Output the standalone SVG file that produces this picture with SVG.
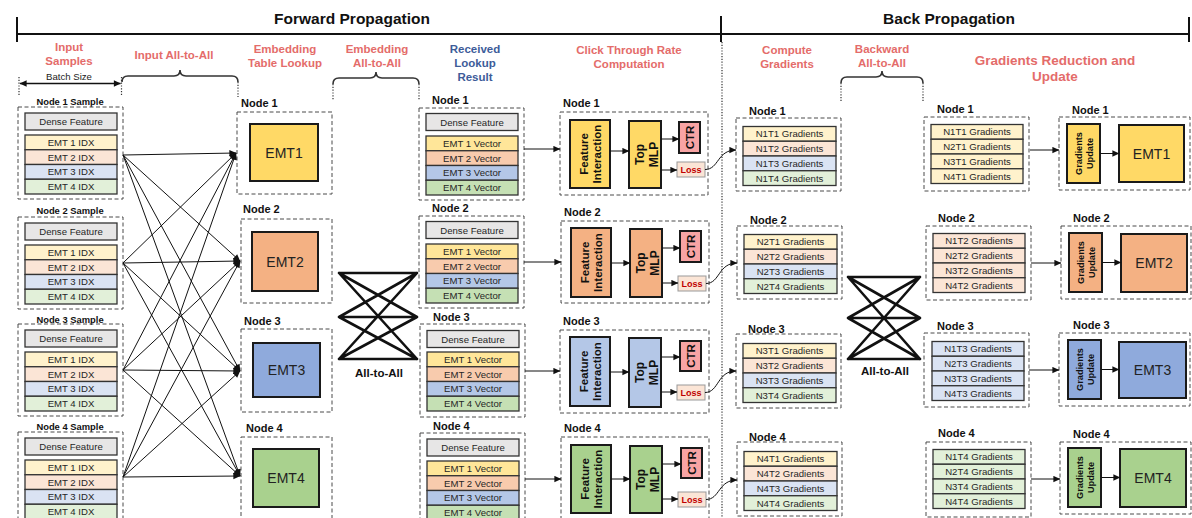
<svg xmlns="http://www.w3.org/2000/svg" width="1192" height="518" viewBox="0 0 1192 518">
<defs>
<marker id="ah" viewBox="0 0 10 10" refX="9.5" refY="5" markerWidth="8" markerHeight="7" markerUnits="userSpaceOnUse" orient="auto-start-reverse"><path d="M0,0.5 L10,5 L0,9.5 z" fill="#111"/></marker>
</defs>
<style>
text{font-family:'Liberation Sans',Arial,sans-serif;}
.hdr{font-size:15.5px;font-weight:bold;fill:#111;text-anchor:middle}
.sec{font-size:11.5px;font-weight:bold;fill:#e46c6a;text-anchor:middle}
.big{font-size:13.5px}
.blu{fill:#3d5c99}
.nl{font-size:11px;font-weight:bold;fill:#111}
.sl{font-size:9.4px;font-weight:bold;fill:#111;text-anchor:middle}
.t{font-size:9.6px;fill:#262626;text-anchor:middle}
.dash{fill:none;stroke:#4a4a4a;stroke-width:1;stroke-dasharray:4 2.5}
.r{stroke:#333;stroke-width:1.3}
.bx{stroke:#1a1a1a;stroke-width:2}
.emt{font-size:14px;fill:#222;text-anchor:middle}
.rot{font-size:11.5px;font-weight:bold;fill:#111;text-anchor:middle}
.gu{font-size:9.2px;font-weight:bold;fill:#111;text-anchor:middle}
.loss{font-size:9px;font-weight:bold;fill:#c00000;text-anchor:middle}
.c{fill:none;stroke:#111;stroke-width:1;marker-end:url(#ah)}
.a2a{stroke:#111;stroke-width:2.6;fill:none;stroke-linecap:round}
.brace{fill:none;stroke:#333;stroke-width:1.6}
.dot{fill:none;stroke:#333;stroke-width:1.2;stroke-dasharray:1.2 1.6}
.y1{fill:#fff2cc}.y2{fill:#fbe5d6}.y3{fill:#dae3f3}.y4{fill:#e2f0d9}
.v1{fill:#ffe699}.v2{fill:#f8cbad}.v3{fill:#b4c7e7}.v4{fill:#c5e0b4}
.e1{fill:#ffd966}.e2{fill:#f4b183}.e3{fill:#8faadc}.e4{fill:#a9d18e}
.gray{fill:#e7e6e6}
.ctr{fill:#f8a4a4}
.lb{fill:#fbe5d6;stroke:#999;stroke-width:1}
</style>

<g id="header">
<text class="hdr" x="352" y="24">Forward Propagation</text>
<text class="hdr" x="949" y="24">Back Propagation</text>
<line x1="17" y1="34" x2="1189" y2="34" stroke="#111" stroke-width="2"/>
<line x1="17" y1="17" x2="17" y2="42" stroke="#111" stroke-width="2"/>
<line x1="721" y1="16" x2="721" y2="42" stroke="#111" stroke-width="2"/>
<line x1="1189" y1="17" x2="1189" y2="42" stroke="#111" stroke-width="2"/>
<line class="dot" x1="722" y1="42" x2="722" y2="518"/>
</g>

<g id="section-labels">
<text class="sec" x="69" y="51">Input</text><text class="sec" x="69" y="65">Samples</text>
<text class="sec" x="174" y="59">Input All-to-All</text>
<text class="sec" x="285" y="53">Embedding</text><text class="sec" x="285" y="67">Table Lookup</text>
<text class="sec" x="377" y="53">Embedding</text><text class="sec" x="377" y="67">All-to-All</text>
<text class="sec blu" x="475" y="53">Received</text><text class="sec blu" x="475" y="67">Lookup</text><text class="sec blu" x="475" y="81">Result</text>
<text class="sec" x="629" y="54">Click Through Rate</text><text class="sec" x="629" y="68">Computation</text>
<text class="sec" x="787" y="54">Compute</text><text class="sec" x="787" y="68">Gradients</text>
<text class="sec" x="882" y="53">Backward</text><text class="sec" x="882" y="67">All-to-All</text>
<text class="sec big" x="1055" y="65">Gradients Reduction and</text><text class="sec big" x="1055" y="81">Update</text>
</g>

<g id="braces">
<text x="69" y="80" style="font-size:9.6px;fill:#222;text-anchor:middle">Batch Size</text>
<line class="dot" x1="19" y1="77" x2="19" y2="96"/>
<line class="dot" x1="121.5" y1="77" x2="121.5" y2="96"/>
<path class="brace" d="M122,82 Q122,76 128,76 L174,76 Q180,76 180,70 Q180,76 186,76 L232,76 Q238,76 238,82"/>
<line class="dot" x1="238" y1="82" x2="238" y2="97"/>
<path class="brace" d="M333,84 Q333,78 339,78 L370,78 Q376,78 376,72 Q376,78 382,78 L413,78 Q419,78 419,84"/>
<line class="dot" x1="333" y1="84" x2="333" y2="100"/>
<line class="dot" x1="419" y1="84" x2="419" y2="100"/>
<path class="brace" d="M841,83 Q841,77 847,77 L876,77 Q882,77 882,71 Q882,77 888,77 L917,77 Q923,77 923,83"/>
<line class="dot" x1="841" y1="83" x2="841" y2="102"/>
<line class="dot" x1="923" y1="83" x2="923" y2="102"/>
</g>

<g id="sample1" transform="translate(18,107)">
<text class="sl" x="52" y="-2">Node 1 Sample</text>
<rect class="dash" width="105" height="92"/>
<rect class="r gray" x="7" y="6" width="92" height="17"/><text class="t" x="53" y="18">Dense Feature</text>
<rect class="r y1" x="7" y="28" width="92" height="14.75"/><rect class="r y2" x="7" y="42.75" width="92" height="14.75"/><rect class="r y3" x="7" y="57.5" width="92" height="14.75"/><rect class="r y4" x="7" y="72.25" width="92" height="14.75"/>
<text class="t" x="53" y="38.8">EMT 1 IDX</text><text class="t" x="53" y="53.5">EMT 2 IDX</text><text class="t" x="53" y="68.3">EMT 3 IDX</text><text class="t" x="53" y="83">EMT 4 IDX</text>
</g>
<g id="sample2" transform="translate(18,217)">
<text class="sl" x="52" y="-3">Node 2 Sample</text>
<rect class="dash" width="105" height="92"/>
<rect class="r gray" x="7" y="6" width="92" height="17"/><text class="t" x="53" y="18">Dense Feature</text>
<rect class="r y1" x="7" y="28" width="92" height="14.75"/><rect class="r y2" x="7" y="42.75" width="92" height="14.75"/><rect class="r y3" x="7" y="57.5" width="92" height="14.75"/><rect class="r y4" x="7" y="72.25" width="92" height="14.75"/>
<text class="t" x="53" y="38.8">EMT 1 IDX</text><text class="t" x="53" y="53.5">EMT 2 IDX</text><text class="t" x="53" y="68.3">EMT 3 IDX</text><text class="t" x="53" y="83">EMT 4 IDX</text>
</g>
<g id="sample3" transform="translate(18,324)">
<text class="sl" x="52" y="-1.5">Node 3 Sample</text>
<rect class="dash" width="105" height="92"/>
<rect class="r gray" x="7" y="6" width="92" height="17"/><text class="t" x="53" y="18">Dense Feature</text>
<rect class="r y1" x="7" y="28" width="92" height="14.75"/><rect class="r y2" x="7" y="42.75" width="92" height="14.75"/><rect class="r y3" x="7" y="57.5" width="92" height="14.75"/><rect class="r y4" x="7" y="72.25" width="92" height="14.75"/>
<text class="t" x="53" y="38.8">EMT 1 IDX</text><text class="t" x="53" y="53.5">EMT 2 IDX</text><text class="t" x="53" y="68.3">EMT 3 IDX</text><text class="t" x="53" y="83">EMT 4 IDX</text>
</g>
<g id="sample4" transform="translate(18,432)">
<text class="sl" x="52" y="-2.5">Node 4 Sample</text>
<rect class="dash" width="105" height="92"/>
<rect class="r gray" x="7" y="6" width="92" height="17"/><text class="t" x="53" y="18">Dense Feature</text>
<rect class="r y1" x="7" y="28" width="92" height="14.75"/><rect class="r y2" x="7" y="42.75" width="92" height="14.75"/><rect class="r y3" x="7" y="57.5" width="92" height="14.75"/><rect class="r y4" x="7" y="72.25" width="92" height="14.75"/>
<text class="t" x="53" y="38.8">EMT 1 IDX</text><text class="t" x="53" y="53.5">EMT 2 IDX</text><text class="t" x="53" y="68.3">EMT 3 IDX</text><text class="t" x="53" y="83">EMT 4 IDX</text>
</g>

<g id="emt-lookup1">
<text class="nl" x="241" y="107">Node 1</text>
<rect class="dash" x="237" y="112" width="95" height="82"/>
<rect class="bx e1" x="250" y="124" width="68" height="57"/><text class="emt" x="284" y="157.5">EMT1</text>
</g>
<g id="emt-lookup2">
<text class="nl" x="243" y="213">Node 2</text>
<rect class="dash" x="241" y="219" width="91" height="84"/>
<rect class="bx e2" x="252" y="232" width="66" height="59"/><text class="emt" x="285" y="266.5">EMT2</text>
</g>
<g id="emt-lookup3">
<text class="nl" x="244" y="325">Node 3</text>
<rect class="dash" x="241" y="329" width="91" height="83"/>
<rect class="bx e3" x="253" y="343" width="67" height="54"/><text class="emt" x="286.5" y="375">EMT3</text>
</g>
<g id="emt-lookup4">
<text class="nl" x="246" y="432">Node 4</text>
<rect class="dash" x="241" y="437" width="91" height="85"/>
<rect class="bx e4" x="253" y="449" width="66" height="58"/><text class="emt" x="286" y="483">EMT4</text>
</g>

<g id="a2a-forward">
<path class="a2a" d="M339,273 L417,273 M339,317 L417,317 M339,359 L417,359 M339,273 L417,317 M339,273 L417,359 M339,317 L417,273 M339,317 L417,359 M339,359 L417,273 M339,359 L417,317"/>
<text x="379" y="377" style="font-size:11.5px;font-weight:bold;fill:#111;text-anchor:middle">All-to-All</text>
</g>

<g id="received1" transform="translate(419,108)">
<text class="nl" x="13" y="-4">Node 1</text>
<rect class="dash" width="105" height="92"/>
<rect class="r gray" x="7" y="5.5" width="92" height="17"/><text class="t" x="53" y="17.5">Dense Feature</text>
<rect class="r v1" x="7" y="28" width="92" height="14.75"/><rect class="r v2" x="7" y="42.75" width="92" height="14.75"/><rect class="r v3" x="7" y="57.5" width="92" height="14.75"/><rect class="r v4" x="7" y="72.25" width="92" height="14.75"/>
<text class="t" x="53" y="38.8">EMT 1 Vector</text><text class="t" x="53" y="53.5">EMT 2 Vector</text><text class="t" x="53" y="68.3">EMT 3 Vector</text><text class="t" x="53" y="83">EMT 4 Vector</text>
</g>
<g id="received2" transform="translate(419,216)">
<text class="nl" x="13" y="-4">Node 2</text>
<rect class="dash" width="105" height="92"/>
<rect class="r gray" x="7" y="5.5" width="92" height="17"/><text class="t" x="53" y="17.5">Dense Feature</text>
<rect class="r v1" x="7" y="28" width="92" height="14.75"/><rect class="r v2" x="7" y="42.75" width="92" height="14.75"/><rect class="r v3" x="7" y="57.5" width="92" height="14.75"/><rect class="r v4" x="7" y="72.25" width="92" height="14.75"/>
<text class="t" x="53" y="38.8">EMT 1 Vector</text><text class="t" x="53" y="53.5">EMT 2 Vector</text><text class="t" x="53" y="68.3">EMT 3 Vector</text><text class="t" x="53" y="83">EMT 4 Vector</text>
</g>
<g id="received3" transform="translate(420,324)">
<text class="nl" x="13" y="-3">Node 3</text>
<rect class="dash" width="105" height="93"/>
<rect class="r gray" x="7" y="6.5" width="92" height="17"/><text class="t" x="53" y="18.5">Dense Feature</text>
<rect class="r v1" x="7" y="28" width="92" height="14.75"/><rect class="r v2" x="7" y="42.75" width="92" height="14.75"/><rect class="r v3" x="7" y="57.5" width="92" height="14.75"/><rect class="r v4" x="7" y="72.25" width="92" height="14.75"/>
<text class="t" x="53" y="38.8">EMT 1 Vector</text><text class="t" x="53" y="53.5">EMT 2 Vector</text><text class="t" x="53" y="68.3">EMT 3 Vector</text><text class="t" x="53" y="83">EMT 4 Vector</text>
</g>
<g id="received4" transform="translate(420,433)">
<text class="nl" x="13" y="-3">Node 4</text>
<rect class="dash" width="105" height="92"/>
<rect class="r gray" x="7" y="6" width="92" height="17"/><text class="t" x="53" y="18">Dense Feature</text>
<rect class="r v1" x="7" y="28" width="92" height="14.75"/><rect class="r v2" x="7" y="42.75" width="92" height="14.75"/><rect class="r v3" x="7" y="57.5" width="92" height="14.75"/><rect class="r v4" x="7" y="72.25" width="92" height="14.75"/>
<text class="t" x="53" y="38.8">EMT 1 Vector</text><text class="t" x="53" y="53.5">EMT 2 Vector</text><text class="t" x="53" y="68.3">EMT 3 Vector</text><text class="t" x="53" y="83">EMT 4 Vector</text>
</g>

<g id="ctr1" transform="translate(560,112)">
<text class="nl" x="3" y="-5">Node 1</text>
<rect class="dash" width="148" height="83"/>
<rect class="bx e1" x="10" y="8" width="40" height="68"/>
<g transform="translate(30,42) rotate(-90)"><text class="rot" y="-2">Feature</text><text class="rot" y="11">Interaction</text></g>
<rect class="bx e1" x="69" y="9" width="32" height="67"/>
<g transform="translate(85,42.5) rotate(-90)"><text class="rot" y="-1" style="font-size:12px">Top</text><text class="rot" y="13" style="font-size:12px">MLP</text></g>
<rect class="bx ctr" x="119" y="10" width="21" height="31"/>
<g transform="translate(129.5,25.5) rotate(-90)"><text class="rot" y="4.5">CTR</text></g>
<rect class="lb" x="117" y="50" width="28" height="15"/><text class="loss" x="131" y="61">Loss</text>
</g>
<g id="ctr2" transform="translate(561,221)">
<text class="nl" x="3" y="-5">Node 2</text>
<rect class="dash" width="148" height="82"/>
<rect class="bx e2" x="10" y="7" width="40" height="69"/>
<g transform="translate(30,41.5) rotate(-90)"><text class="rot" y="-2">Feature</text><text class="rot" y="11">Interaction</text></g>
<rect class="bx e2" x="69" y="8" width="32" height="68"/>
<g transform="translate(85,42) rotate(-90)"><text class="rot" y="-1" style="font-size:12px">Top</text><text class="rot" y="13" style="font-size:12px">MLP</text></g>
<rect class="bx ctr" x="119" y="10" width="21" height="31"/>
<g transform="translate(129.5,25.5) rotate(-90)"><text class="rot" y="4.5">CTR</text></g>
<rect class="lb" x="117" y="55" width="28" height="15"/><text class="loss" x="131" y="66">Loss</text>
</g>
<g id="ctr3" transform="translate(560,330)">
<text class="nl" x="3" y="-5">Node 3</text>
<rect class="dash" width="149" height="83"/>
<rect class="bx v3" x="10" y="7" width="40" height="69"/>
<g transform="translate(30,41.5) rotate(-90)"><text class="rot" y="-2">Feature</text><text class="rot" y="11">Interaction</text></g>
<rect class="bx v3" x="69" y="8" width="32" height="69"/>
<g transform="translate(85,42.5) rotate(-90)"><text class="rot" y="-1" style="font-size:12px">Top</text><text class="rot" y="13" style="font-size:12px">MLP</text></g>
<rect class="bx ctr" x="120" y="11" width="21" height="30"/>
<g transform="translate(130.5,26) rotate(-90)"><text class="rot" y="4.5">CTR</text></g>
<rect class="lb" x="117" y="55" width="28" height="15"/><text class="loss" x="131" y="66">Loss</text>
</g>
<g id="ctr4" transform="translate(561,437)">
<text class="nl" x="3" y="-5">Node 4</text>
<rect class="dash" width="148" height="82"/>
<rect class="bx e4" x="10" y="8" width="40" height="68"/>
<g transform="translate(30,42) rotate(-90)"><text class="rot" y="-2">Feature</text><text class="rot" y="11">Interaction</text></g>
<rect class="bx e4" x="69" y="9" width="32" height="67"/>
<g transform="translate(85,42.5) rotate(-90)"><text class="rot" y="-1" style="font-size:12px">Top</text><text class="rot" y="13" style="font-size:12px">MLP</text></g>
<rect class="bx ctr" x="120" y="11" width="21" height="30"/>
<g transform="translate(130.5,26) rotate(-90)"><text class="rot" y="4.5">CTR</text></g>
<rect class="lb" x="117" y="55" width="28" height="15"/><text class="loss" x="131" y="66">Loss</text>
</g>

<g id="grad1" transform="translate(736,118)">
<text class="nl" x="13" y="-3">Node 1</text>
<rect class="dash" width="105" height="73"/>
<rect class="r y1" x="7" y="8.5" width="93" height="14.75"/><rect class="r y2" x="7" y="23.25" width="93" height="14.75"/><rect class="r y3" x="7" y="38" width="93" height="14.75"/><rect class="r y4" x="7" y="52.75" width="93" height="14.75"/>
<text class="t" x="53.5" y="19.3">N1T1 Gradients</text><text class="t" x="53.5" y="34">N1T2 Gradients</text><text class="t" x="53.5" y="48.8">N1T3 Gradients</text><text class="t" x="53.5" y="63.5">N1T4 Gradients</text>
</g>
<g id="grad2" transform="translate(737,226)">
<text class="nl" x="13" y="-2">Node 2</text>
<rect class="dash" width="105" height="73"/>
<rect class="r y1" x="7" y="8.5" width="93" height="14.75"/><rect class="r y2" x="7" y="23.25" width="93" height="14.75"/><rect class="r y3" x="7" y="38" width="93" height="14.75"/><rect class="r y4" x="7" y="52.75" width="93" height="14.75"/>
<text class="t" x="53.5" y="19.3">N2T1 Gradients</text><text class="t" x="53.5" y="34">N2T2 Gradients</text><text class="t" x="53.5" y="48.8">N2T3 Gradients</text><text class="t" x="53.5" y="63.5">N2T4 Gradients</text>
</g>
<g id="grad3" transform="translate(736,334)">
<text class="nl" x="12" y="-1">Node 3</text>
<rect class="dash" width="105" height="74"/>
<rect class="r y1" x="7" y="9.5" width="93" height="14.75"/><rect class="r y2" x="7" y="24.25" width="93" height="14.75"/><rect class="r y3" x="7" y="39" width="93" height="14.75"/><rect class="r y4" x="7" y="53.75" width="93" height="14.75"/>
<text class="t" x="53.5" y="20.3">N3T1 Gradients</text><text class="t" x="53.5" y="35">N3T2 Gradients</text><text class="t" x="53.5" y="49.8">N3T3 Gradients</text><text class="t" x="53.5" y="64.5">N3T4 Gradients</text>
</g>
<g id="grad4" transform="translate(737,442)">
<text class="nl" x="12" y="-1">Node 4</text>
<rect class="dash" width="105" height="74"/>
<rect class="r y1" x="7" y="9.5" width="93" height="14.75"/><rect class="r y2" x="7" y="24.25" width="93" height="14.75"/><rect class="r y3" x="7" y="39" width="93" height="14.75"/><rect class="r y4" x="7" y="53.75" width="93" height="14.75"/>
<text class="t" x="53.5" y="20.3">N4T1 Gradients</text><text class="t" x="53.5" y="35">N4T2 Gradients</text><text class="t" x="53.5" y="49.8">N4T3 Gradients</text><text class="t" x="53.5" y="64.5">N4T4 Gradients</text>
</g>

<g id="a2a-backward">
<path class="a2a" d="M848,277 L920,277 M848,318 L920,318 M848,359 L920,359 M848,277 L920,318 M848,277 L920,359 M848,318 L920,277 M848,318 L920,359 M848,359 L920,277 M848,359 L920,318"/>
<text x="885" y="375" style="font-size:11.5px;font-weight:bold;fill:#111;text-anchor:middle">All-to-All</text>
</g>

<g id="reduce1" transform="translate(924,117)">
<text class="nl" x="13" y="-4">Node 1</text>
<rect class="dash" width="105" height="74"/>
<rect class="r y1" x="7" y="7.5" width="92" height="14.75"/><rect class="r y1" x="7" y="22.25" width="92" height="14.75"/><rect class="r y1" x="7" y="37" width="92" height="14.75"/><rect class="r y1" x="7" y="51.75" width="92" height="14.75"/>
<text class="t" x="53" y="18.3">N1T1 Gradients</text><text class="t" x="53" y="33">N2T1 Gradients</text><text class="t" x="53" y="47.8">N3T1 Gradients</text><text class="t" x="53" y="62.5">N4T1 Gradients</text>
</g>
<g id="reduce2" transform="translate(926,226)">
<text class="nl" x="12" y="-4">Node 2</text>
<rect class="dash" width="105" height="74"/>
<rect class="r y2" x="7" y="7.5" width="92" height="14.75"/><rect class="r y2" x="7" y="22.25" width="92" height="14.75"/><rect class="r y2" x="7" y="37" width="92" height="14.75"/><rect class="r y2" x="7" y="51.75" width="92" height="14.75"/>
<text class="t" x="53" y="18.3">N1T2 Gradients</text><text class="t" x="53" y="33">N2T2 Gradients</text><text class="t" x="53" y="47.8">N3T2 Gradients</text><text class="t" x="53" y="62.5">N4T2 Gradients</text>
</g>
<g id="reduce3" transform="translate(924,333)">
<text class="nl" x="13" y="-3">Node 3</text>
<rect class="dash" width="105" height="74"/>
<rect class="r y3" x="8" y="8.5" width="92" height="14.75"/><rect class="r y3" x="8" y="23.25" width="92" height="14.75"/><rect class="r y3" x="8" y="38" width="92" height="14.75"/><rect class="r y3" x="8" y="52.75" width="92" height="14.75"/>
<text class="t" x="54" y="19.3">N1T3 Gradients</text><text class="t" x="54" y="34">N2T3 Gradients</text><text class="t" x="54" y="48.8">N3T3 Gradients</text><text class="t" x="54" y="63.5">N4T3 Gradients</text>
</g>
<g id="reduce4" transform="translate(926,442)">
<text class="nl" x="12" y="-5">Node 4</text>
<rect class="dash" width="105" height="75"/>
<rect class="r y4" x="7" y="7.5" width="92" height="14.75"/><rect class="r y4" x="7" y="22.25" width="92" height="14.75"/><rect class="r y4" x="7" y="37" width="92" height="14.75"/><rect class="r y4" x="7" y="51.75" width="92" height="14.75"/>
<text class="t" x="53" y="18.3">N1T4 Gradients</text><text class="t" x="53" y="33">N2T4 Gradients</text><text class="t" x="53" y="47.8">N3T4 Gradients</text><text class="t" x="53" y="62.5">N4T4 Gradients</text>
</g>

<g id="update1" transform="translate(1059,117)">
<text class="nl" x="13" y="-3">Node 1</text>
<rect class="dash" width="131" height="73"/>
<rect class="bx e1" x="8" y="7" width="33" height="59"/>
<g transform="translate(24.5,36.5) rotate(-90)"><text class="gu" y="-1.5">Gradients</text><text class="gu" y="9.5">Update</text></g>
<rect class="bx e1" x="60" y="8" width="65" height="57"/><text class="emt" x="92.5" y="41.5">EMT1</text>
</g>
<g id="update2" transform="translate(1061,226)">
<text class="nl" x="12" y="-4">Node 2</text>
<rect class="dash" width="130" height="73"/>
<rect class="bx e2" x="8" y="7" width="33" height="59"/>
<g transform="translate(24.5,36.5) rotate(-90)"><text class="gu" y="-1.5">Gradients</text><text class="gu" y="9.5">Update</text></g>
<rect class="bx e2" x="60" y="8" width="66" height="58"/><text class="emt" x="93" y="42">EMT2</text>
</g>
<g id="update3" transform="translate(1059,333)">
<text class="nl" x="14" y="-4">Node 3</text>
<rect class="dash" width="131" height="73"/>
<rect class="bx e3" x="9" y="7" width="33" height="59"/>
<g transform="translate(25.5,36.5) rotate(-90)"><text class="gu" y="-1.5">Gradients</text><text class="gu" y="9.5">Update</text></g>
<rect class="bx e3" x="60" y="9" width="67" height="56"/><text class="emt" x="93.5" y="42">EMT3</text>
</g>
<g id="update4" transform="translate(1060,442)">
<text class="nl" x="13" y="-4">Node 4</text>
<rect class="dash" width="131" height="72"/>
<rect class="bx e4" x="8" y="6" width="33" height="59"/>
<g transform="translate(24.5,35.5) rotate(-90)"><text class="gu" y="-1.5">Gradients</text><text class="gu" y="9.5">Update</text></g>
<rect class="bx e4" x="60" y="7" width="66" height="58"/><text class="emt" x="93" y="41">EMT4</text>
</g>

<g id="connectors">
<line x1="20" y1="83.5" x2="120.5" y2="83.5" stroke="#111" stroke-width="1.6" marker-start="url(#ah)" marker-end="url(#ah)"/>
<line class="c" x1="123" y1="155" x2="236" y2="153"/>
<line class="c" x1="123" y1="155" x2="240" y2="261"/>
<line class="c" x1="123" y1="155" x2="240" y2="371"/>
<line class="c" x1="123" y1="155" x2="240" y2="476"/>
<line class="c" x1="123" y1="263" x2="236" y2="153"/>
<line class="c" x1="123" y1="263" x2="240" y2="261"/>
<line class="c" x1="123" y1="263" x2="240" y2="371"/>
<line class="c" x1="123" y1="263" x2="240" y2="476"/>
<line class="c" x1="123" y1="370" x2="236" y2="153"/>
<line class="c" x1="123" y1="370" x2="240" y2="261"/>
<line class="c" x1="123" y1="370" x2="240" y2="371"/>
<line class="c" x1="123" y1="370" x2="240" y2="476"/>
<line class="c" x1="123" y1="477" x2="236" y2="153"/>
<line class="c" x1="123" y1="477" x2="240" y2="261"/>
<line class="c" x1="123" y1="477" x2="240" y2="371"/>
<line class="c" x1="123" y1="477" x2="240" y2="476"/>

<line class="c" x1="524" y1="149" x2="560" y2="149"/>
<line class="c" x1="524" y1="262" x2="561" y2="262"/>
<line class="c" x1="525" y1="371" x2="560" y2="371"/>
<line class="c" x1="525" y1="479" x2="561" y2="479"/>

<line class="c" x1="610" y1="151" x2="629" y2="151"/>
<line class="c" x1="661" y1="139" x2="679" y2="139"/>
<line class="c" x1="661" y1="170" x2="677" y2="170"/>
<line class="c" x1="611" y1="263" x2="630" y2="263"/>
<line class="c" x1="662" y1="248" x2="680" y2="248"/>
<line class="c" x1="662" y1="283" x2="678" y2="283"/>
<line class="c" x1="610" y1="372" x2="629" y2="372"/>
<line class="c" x1="661" y1="357" x2="680" y2="357"/>
<line class="c" x1="661" y1="392" x2="677" y2="392"/>
<line class="c" x1="611" y1="479" x2="630" y2="479"/>
<line class="c" x1="662" y1="464" x2="681" y2="464"/>
<line class="c" x1="662" y1="499" x2="678" y2="499"/>

<path class="c" d="M705,169.5 C719,169.5 717,150 736,150"/>
<path class="c" d="M706,283.5 C720,283.5 718,263 737,263"/>
<path class="c" d="M705,392.5 C719,392.5 717,371 736,371"/>
<path class="c" d="M706,499.5 C720,499.5 718,480 737,480"/>

<line class="c" x1="1030" y1="150" x2="1059" y2="150"/>
<line class="c" x1="1031" y1="263" x2="1061" y2="263"/>
<line class="c" x1="1029" y1="370" x2="1059" y2="370"/>
<line class="c" x1="1031" y1="479" x2="1060" y2="479"/>

<line class="c" x1="1100" y1="153.5" x2="1119" y2="153.5"/>
<line class="c" x1="1102" y1="262.5" x2="1121" y2="262.5"/>
<line class="c" x1="1101" y1="369.5" x2="1119" y2="369.5"/>
<line class="c" x1="1101" y1="477.5" x2="1120" y2="477.5"/>
</g>
</svg>
